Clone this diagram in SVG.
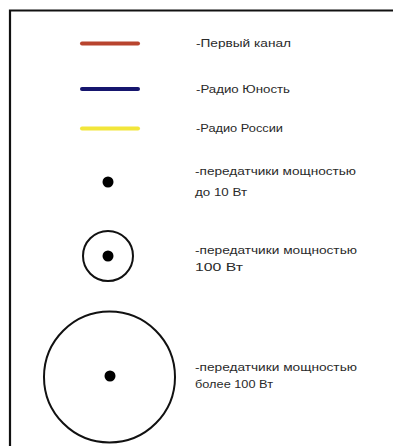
<svg xmlns="http://www.w3.org/2000/svg" width="393" height="446" viewBox="0 0 393 446">
<style>
.t{font-family:"Liberation Sans",Arial,sans-serif;font-size:10.5px;fill:#2a2a2a}
.ln{stroke-width:4;stroke-linecap:round;fill:none}
.ring{fill:none;stroke:#111;stroke-width:2}
.dot{fill:#000}
</style>
<rect width="393" height="446" fill="#fff"/>
<g id="frame"><path d="M10,446 V10.5 H393" fill="none" stroke="#111" stroke-width="2.2"/></g>
<g id="legend-red"><line class="ln" x1="82" y1="43.5" x2="138" y2="43.5" stroke="#b8442e"/><text class="t" x="196" y="47" textLength="95" lengthAdjust="spacingAndGlyphs">-Первый канал</text></g>
<g id="legend-blue"><line class="ln" x1="82" y1="89" x2="138" y2="89" stroke="#16166e"/><text class="t" x="196" y="93" textLength="94" lengthAdjust="spacingAndGlyphs">-Радио Юность</text></g>
<g id="legend-yellow"><line class="ln" x1="82" y1="128.5" x2="138" y2="128.5" stroke="#f2e63a"/><text class="t" x="196" y="132" textLength="87" lengthAdjust="spacingAndGlyphs">-Радио России</text></g>
<g id="legend-small"><circle class="dot" cx="108" cy="182" r="5.5"/><text class="t" x="195" y="175" textLength="161" lengthAdjust="spacingAndGlyphs">-передатчики мощностью</text><text class="t" x="195" y="196" textLength="52" lengthAdjust="spacingAndGlyphs">до 10 Вт</text></g>
<g id="legend-medium"><circle class="ring" cx="108" cy="256" r="25"/><circle class="dot" cx="108" cy="256" r="5.5"/><text class="t" x="195" y="254" textLength="162" lengthAdjust="spacingAndGlyphs">-передатчики мощностью</text><text class="t" x="195" y="271" textLength="48" lengthAdjust="spacingAndGlyphs">100 Вт</text></g>
<g id="legend-large"><circle class="ring" cx="109.5" cy="377" r="65.5"/><circle class="dot" cx="110" cy="376" r="5.5"/><text class="t" x="195" y="371" textLength="162" lengthAdjust="spacingAndGlyphs">-передатчики мощностью</text><text class="t" x="195" y="388" textLength="78" lengthAdjust="spacingAndGlyphs">более 100 Вт</text></g>
<g id="connectors"/>
</svg>
